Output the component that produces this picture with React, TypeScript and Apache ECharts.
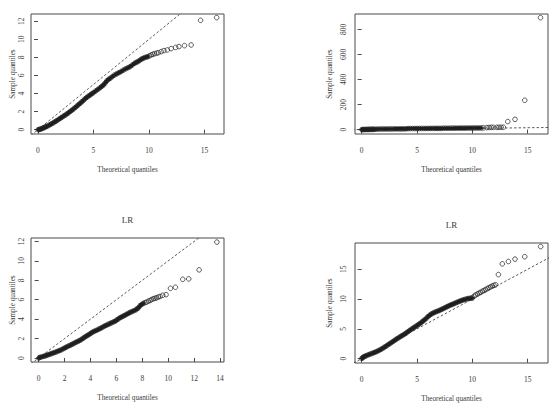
import { useEffect, useRef } from "react";
import * as echarts from "echarts";

// ---- Q-Q data (theoretical vs sample quantiles) ----
const topLeftTheo = [
  0.02, 0.1, 0.2, 0.3, 0.4, 0.5, 0.6, 0.7, 0.8, 0.95, 1.1, 1.25, 1.4, 1.55, 1.7, 1.85, 2.0, 2.15, 2.3, 2.45,
  2.6, 2.75, 2.9, 3.05, 3.2, 3.35, 3.5, 3.65, 3.8, 3.95, 4.1, 4.25, 4.4, 4.55, 4.7, 4.85, 5.0, 5.2, 5.4, 5.6,
  5.75, 5.9, 6.05, 6.2, 6.35, 6.5, 6.7, 6.9, 7.1, 7.3, 7.5, 7.7, 7.9, 8.1, 8.3, 8.5, 8.7, 8.85, 9.0, 9.15,
  9.3, 9.45, 9.6, 9.75, 9.9, 10.05, 10.2, 10.35, 10.5, 10.7, 10.85, 11.1, 11.35, 11.65, 12.0, 12.4, 12.7, 13.2, 13.8, 14.65,
  16.1,
];
const topLeftSample = [
  0.0, 0.02, 0.05, 0.1, 0.15, 0.2, 0.26, 0.31, 0.37, 0.46, 0.56, 0.67, 0.77, 0.89, 1.0, 1.13, 1.25, 1.37, 1.49, 1.61,
  1.73, 1.87, 2.01, 2.15, 2.29, 2.45, 2.6, 2.76, 2.92, 3.08, 3.25, 3.42, 3.58, 3.71, 3.84, 3.97, 4.1, 4.28, 4.46, 4.64,
  4.8, 4.94, 5.16, 5.4, 5.56, 5.68, 5.87, 6.05, 6.18, 6.31, 6.44, 6.6, 6.73, 6.85, 6.97, 7.16, 7.34, 7.44, 7.53, 7.66,
  7.79, 7.88, 7.97, 8.03, 8.08, 8.18, 8.27, 8.34, 8.41, 8.47, 8.52, 8.63, 8.75, 8.82, 8.97, 9.1, 9.19, 9.3, 9.37, 12.1,
  12.4,
];

const topRightTheo = [
  0.02, 0.1, 0.2, 0.3, 0.4, 0.5, 0.6, 0.7, 0.8, 0.9, 1.0, 1.1, 1.2, 1.4, 1.6, 1.8, 2.0, 2.2, 2.4, 2.6,
  2.8, 3.0, 3.2, 3.4, 3.6, 3.8, 4.0, 4.2, 4.4, 4.6, 4.8, 5.0, 5.2, 5.4, 5.6, 5.8, 6.0, 6.2, 6.4, 6.6,
  6.8, 7.0, 7.2, 7.4, 7.6, 7.8, 8.0, 8.2, 8.4, 8.6, 8.8, 9.0, 9.2, 9.4, 9.6, 9.8, 10.0, 10.2, 10.4, 10.6,
  10.8, 11.0, 11.3, 11.5, 11.7, 11.9, 12.2, 12.4, 12.6, 12.8, 13.2, 13.85, 14.73, 16.15,
];
const topRightSample = [
  0, 0.3, 0.6, 0.9, 1.1, 1.3, 1.5, 1.7, 1.9, 2.1, 2.3, 2.5, 2.8, 4.2, 4.4, 4.6, 4.8, 5.0, 5.1, 5.3,
  5.4, 5.5, 5.6, 5.8, 5.9, 6.0, 6.1, 8.2, 8.4, 8.6, 8.7, 8.9, 9.0, 9.1, 9.2, 9.3, 9.4, 9.5, 9.6, 9.7,
  9.8, 9.9, 10.0, 11.0, 11.1, 11.2, 11.3, 11.4, 11.5, 11.6, 11.8, 11.9, 12.0, 12.1, 12.3, 12.4, 12.6, 12.8, 12.9, 13.0,
  13.2, 14.0, 16.0, 17.0, 18.0, 18.0, 18.0, 18.5, 18.6, 19.0, 64, 82, 234, 893,
];

const bottomLeftTheo = [
  0.02, 0.1, 0.25, 0.4, 0.52, 0.62, 0.75, 0.88, 1.0, 1.13, 1.26, 1.39, 1.52, 1.65, 1.78, 1.91, 2.04, 2.16, 2.3, 2.43,
  2.56, 2.68, 2.81, 2.94, 3.07, 3.2, 3.33, 3.46, 3.58, 3.71, 3.84, 3.96, 4.08, 4.2, 4.34, 4.48, 4.61, 4.74, 4.87, 5.0,
  5.12, 5.25, 5.38, 5.5, 5.63, 5.77, 5.9, 6.03, 6.15, 6.28, 6.41, 6.54, 6.67, 6.8, 6.93, 7.05, 7.19, 7.32, 7.46, 7.58,
  7.7, 7.82, 7.95, 8.08, 8.21, 8.34, 8.47, 8.6, 8.72, 8.85, 8.98, 9.1, 9.23, 9.37, 9.57, 9.83, 10.17, 10.55, 11.12, 11.58,
  12.38, 13.75,
];
const bottomLeftSample = [
  0.0, 0.07, 0.12, 0.18, 0.23, 0.28, 0.34, 0.4, 0.46, 0.52, 0.58, 0.65, 0.72, 0.79, 0.87, 0.96, 1.05, 1.14, 1.23, 1.31,
  1.4, 1.48, 1.57, 1.66, 1.74, 1.83, 1.94, 2.06, 2.17, 2.28, 2.38, 2.48, 2.6, 2.69, 2.78, 2.86, 2.95, 3.03, 3.13, 3.22,
  3.31, 3.39, 3.47, 3.55, 3.63, 3.71, 3.79, 3.91, 4.03, 4.14, 4.23, 4.32, 4.41, 4.51, 4.6, 4.69, 4.77, 4.85, 4.93, 5.05,
  5.17, 5.38, 5.52, 5.62, 5.7, 5.76, 5.85, 5.93, 6.02, 6.1, 6.15, 6.2, 6.27, 6.34, 6.45, 6.52, 7.17, 7.28, 8.1, 8.14,
  9.07, 11.93,
];

const bottomRightTheo = [
  0.02, 0.1, 0.2, 0.3, 0.45, 0.6, 0.75, 0.9, 1.05, 1.2, 1.35, 1.5, 1.65, 1.8, 1.95, 2.1, 2.25, 2.4, 2.55, 2.7,
  2.85, 3.0, 3.15, 3.3, 3.45, 3.6, 3.75, 3.9, 4.05, 4.2, 4.35, 4.5, 4.65, 4.8, 4.95, 5.1, 5.25, 5.4, 5.55, 5.7,
  5.85, 6.0, 6.15, 6.3, 6.45, 6.6, 6.75, 6.9, 7.05, 7.2, 7.35, 7.5, 7.65, 7.8, 7.95, 8.1, 8.25, 8.4, 8.55, 8.7,
  8.85, 9.0, 9.15, 9.3, 9.45, 9.6, 9.75, 9.9, 10.0, 10.15, 10.3, 10.45, 10.6, 10.75, 10.9, 11.05, 11.2, 11.35, 11.5, 11.65,
  11.8, 11.95, 12.1, 12.35, 12.7, 13.25, 13.85, 14.73, 16.17,
];
const bottomRightSample = [
  0.05, 0.18, 0.32, 0.42, 0.53, 0.65, 0.76, 0.86, 0.97, 1.08, 1.2, 1.33, 1.47, 1.63, 1.8, 1.98, 2.16, 2.35, 2.54, 2.72,
  2.91, 3.1, 3.29, 3.47, 3.65, 3.82, 3.98, 4.15, 4.35, 4.55, 4.76, 4.95, 5.13, 5.32, 5.5, 5.69, 5.88, 6.1, 6.32, 6.54,
  6.8, 7.08, 7.3, 7.5, 7.65, 7.78, 7.9, 8.0, 8.12, 8.25, 8.38, 8.52, 8.66, 8.8, 8.93, 9.05, 9.16, 9.28, 9.4, 9.52,
  9.63, 9.74, 9.84, 9.93, 10.0, 10.08, 10.12, 10.15, 10.18, 10.5, 10.7, 10.85, 11.0, 11.15, 11.3, 11.45, 11.6, 11.75, 11.9, 12.05,
  12.2, 12.3, 12.4, 14.1, 15.9, 16.3, 16.7, 17.1, 18.8,
];

// ---- tick labels ----
const ticksBy5 = [0, 5, 10, 15];
const ticksBy2To12 = [0, 2, 4, 6, 8, 10, 12];
const ticksBy200 = [0, 200, 400, 600, 800];
const ticksBy2To14 = [0, 2, 4, 6, 8, 10, 12, 14];
const ticksBy5To15 = [0, 5, 10, 15];

const FONT = "Liberation Serif";
const TEXT = "#3a3a3a";
const INK = "#1e1e1e";

type Panel = {
  box: { left: number; top: number; width: number; height: number };
  xRange: [number, number];
  yRange: [number, number];
  xTicks: number[];
  yTicks: number[];
  theo: number[];
  sample: number[];
  denseCount: number; // leading points so tightly packed that the circles merge into a band
  yNameGap: number;
  yLabelMargin: number;
};

const panels: Panel[] = [
  {
    box: { left: 31, top: 14, width: 193, height: 120 },
    xRange: [-0.63, 16.76],
    yRange: [-0.48, 12.8],
    xTicks: ticksBy5,
    yTicks: ticksBy2To12,
    theo: topLeftTheo,
    sample: topLeftSample,
    denseCount: 65,
    yNameGap: 12,
    yLabelMargin: 6,
  },
  {
    box: { left: 355, top: 14, width: 193, height: 120 },
    xRange: [-0.6, 16.83],
    yRange: [-35, 922],
    xTicks: ticksBy5,
    yTicks: ticksBy200,
    theo: topRightTheo,
    sample: topRightSample,
    denseCount: 61,
    yNameGap: 22,
    yLabelMargin: 8,
  },
  {
    box: { left: 31, top: 238, width: 193, height: 124 },
    xRange: [-0.59, 14.3],
    yRange: [-0.41, 12.35],
    xTicks: ticksBy2To14,
    yTicks: ticksBy2To12,
    theo: bottomLeftTheo,
    sample: bottomLeftSample,
    denseCount: 64,
    yNameGap: 12,
    yLabelMargin: 6,
  },
  {
    box: { left: 355, top: 243, width: 193, height: 120 },
    xRange: [-0.6, 16.83],
    yRange: [-0.72, 19.4],
    xTicks: ticksBy5,
    yTicks: ticksBy5To15,
    theo: bottomRightTheo,
    sample: bottomRightSample,
    denseCount: 69,
    yNameGap: 22,
    yLabelMargin: 8,
  },
];

const panelTitles = [
  { text: "LR", panel: 2, x: 127.5, y: 220 },
  { text: "LR", panel: 3, x: 451.5, y: 225 },
];

function buildOption() {
  const grid: any[] = [];
  const xAxis: any[] = [];
  const yAxis: any[] = [];
  const series: any[] = [];

  panels.forEach((p, i) => {
    grid.push({
      ...p.box,
      show: true,
      borderColor: "#4a4a4a",
      borderWidth: 1,
      backgroundColor: "transparent",
      containLabel: false,
    });
    const labelStyle = { color: TEXT, fontSize: 7.5, fontFamily: FONT };
    xAxis.push({
      type: "value",
      gridIndex: i,
      min: p.xRange[0],
      max: p.xRange[1],
      axisLine: { show: false },
      splitLine: { show: false },
      axisTick: {
        show: true,
        customValues: p.xTicks,
        length: 4,
        inside: false,
        lineStyle: { color: "#4a4a4a", width: 1 },
      },
      axisLabel: { ...labelStyle, customValues: p.xTicks, margin: 12 },
      name: "Theoretical quantiles",
      nameLocation: "middle",
      nameGap: 32,
      nameTextStyle: { color: TEXT, fontSize: 7.2, fontFamily: FONT },
    });
    yAxis.push({
      type: "value",
      gridIndex: i,
      min: p.yRange[0],
      max: p.yRange[1],
      axisLine: { show: false },
      splitLine: { show: false },
      axisTick: {
        show: true,
        customValues: p.yTicks,
        length: 4,
        inside: false,
        lineStyle: { color: "#4a4a4a", width: 1 },
      },
      axisLabel: { ...labelStyle, customValues: p.yTicks, rotate: 90, margin: p.yLabelMargin },
      name: "Sample quantiles",
      nameLocation: "middle",
      nameGap: p.yNameGap,
      nameRotate: 90,
      nameTextStyle: { color: TEXT, fontSize: 7.2, fontFamily: FONT },
    });

    // dashed y = x reference line
    const lo = Math.min(p.xRange[0], p.yRange[0]);
    const hi = Math.max(p.xRange[1], p.yRange[1]);
    series.push({
      type: "line",
      xAxisIndex: i,
      yAxisIndex: i,
      data: [
        [lo, lo],
        [hi, hi],
      ],
      showSymbol: false,
      symbol: "none",
      clip: true,
      silent: true,
      lineStyle: { color: "#333", width: 0.8, type: [2.5, 2] },
    });

    const pts = p.theo.map((x, k) => [x, p.sample[k]]);

    // the tightly packed run of circles reads as one solid band
    series.push({
      type: "line",
      xAxisIndex: i,
      yAxisIndex: i,
      data: pts.slice(0, p.denseCount),
      showSymbol: false,
      symbol: "none",
      silent: true,
      lineStyle: { color: INK, width: 3.6, cap: "round", join: "round" },
    });

    series.push({
      type: "scatter",
      xAxisIndex: i,
      yAxisIndex: i,
      data: pts,
      symbol: "circle",
      symbolSize: 4.6,
      silent: true,
      clip: false,
      itemStyle: { color: "rgba(0,0,0,0)", borderColor: INK, borderWidth: 0.9 },
    });
  });

  const graphic = panelTitles.map((t) => ({
    type: "text",
    x: t.x,
    y: t.y,
    style: {
      text: t.text,
      fill: TEXT,
      font: `normal 9px "${FONT}"`,
      textAlign: "center",
      textVerticalAlign: "middle",
    },
  }));

  return {
    animation: false,
    backgroundColor: "#ffffff",
    grid,
    xAxis,
    yAxis,
    series,
    graphic,
  };
}

export default function App() {
  const ref = useRef<HTMLDivElement>(null);

  useEffect(() => {
    if (!ref.current) return;
    const chart = echarts.init(ref.current, null, { renderer: "svg" });
    chart.setOption(buildOption() as any);
    return () => chart.dispose();
  }, []);

  return (
    <div
      ref={ref}
      style={{ position: "fixed", left: 0, top: 0, width: 555, height: 410, background: "#fff" }}
    />
  );
}
